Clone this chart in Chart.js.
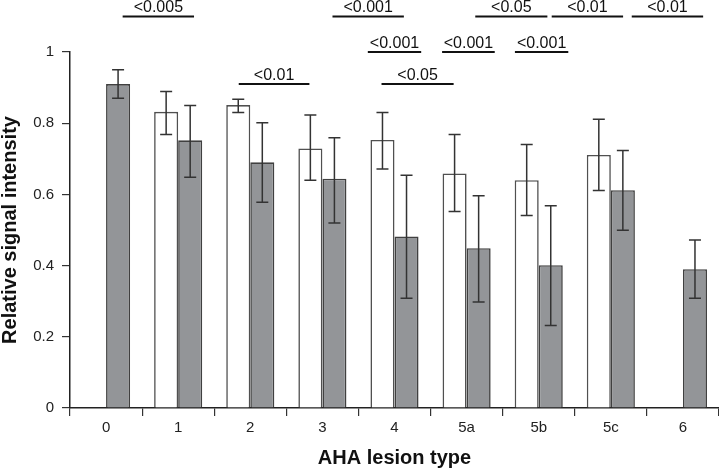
<!DOCTYPE html>
<html>
<head>
<meta charset="utf-8">
<script src="https://cdn.jsdelivr.net/npm/chart.js@4.4.0/dist/chart.umd.min.js"></script>
<style>
html,body{margin:0;padding:0;background:#fff;}
#wrap{width:719px;height:469px;position:relative;}
</style>
</head>
<body>
<div id="wrap"><canvas id="c" width="719" height="469"></canvas></div>
<script>
const categories = ['0','1','2','3','4','5a','5b','5c','6'];
const whiteValues = [null, 0.832, 0.851, 0.729, 0.753, 0.659, 0.640, 0.711, null];
const grayValues  = [0.910, 0.752, 0.690, 0.644, 0.482, 0.449, 0.401, 0.612, 0.390];
const whiteErrHigh = [null, 0.889, 0.867, 0.823, 0.830, 0.768, 0.740, 0.811, null];
const whiteErrLow  = [null, 0.768, 0.830, 0.640, 0.671, 0.552, 0.541, 0.611, null];
const grayErrHigh  = [0.950, 0.850, 0.801, 0.759, 0.654, 0.596, 0.568, 0.723, 0.472];
const grayErrLow   = [0.870, 0.648, 0.578, 0.520, 0.308, 0.298, 0.232, 0.499, 0.308];

const sigLabels = ['<0.005','<0.01','<0.001','<0.05','<0.01','<0.01','<0.001','<0.001','<0.001','<0.05'];
const sigFrom   = [0.23, 1.84, 3.14, 5.12, 6.18, 7.29, 3.63, 4.66, 5.67, 3.82];
const sigTo     = [1.22, 2.82, 4.13, 6.12, 7.17, 8.28, 4.37, 5.39, 6.41, 4.82];
const sigLevel  = [1.10, 0.91, 1.10, 1.10, 1.10, 1.10, 1.00, 1.00, 1.00, 0.91];

const FONT = '"Liberation Sans", Arial, sans-serif';
const errHigh = [whiteErrHigh, grayErrHigh];
const errLow = [whiteErrLow, grayErrLow];

const errorBars = {
  id: 'errorBars',
  afterDatasetsDraw(chart) {
    const ctx = chart.ctx;
    const y = chart.scales.y;
    ctx.save();
    ctx.strokeStyle = '#333';
    ctx.lineWidth = 1.5;
    chart.data.datasets.forEach((ds, di) => {
      const meta = chart.getDatasetMeta(di);
      meta.data.forEach((bar, i) => {
        const hi = errHigh[di][i], lo = errLow[di][i];
        if (hi == null || lo == null) return;
        const x = bar.x;
        const yh = y.getPixelForValue(hi), yl = y.getPixelForValue(lo);
        ctx.beginPath();
        ctx.moveTo(x, yh); ctx.lineTo(x, yl);
        ctx.moveTo(x - 6, yh); ctx.lineTo(x + 6, yh);
        ctx.moveTo(x - 6, yl); ctx.lineTo(x + 6, yl);
        ctx.stroke();
      });
    });
    ctx.restore();
  }
};

const sigPlugin = {
  id: 'sigPlugin',
  afterDraw(chart) {
    const ctx = chart.ctx;
    const xs = chart.scales.x, ys = chart.scales.y;
    ctx.save();
    ctx.strokeStyle = '#111';
    ctx.fillStyle = '#111';
    ctx.lineWidth = 2;
    ctx.font = '16px ' + FONT;
    ctx.textAlign = 'center';
    ctx.textBaseline = 'alphabetic';
    sigLabels.forEach((lab, i) => {
      const x1 = xs.getPixelForValue(sigFrom[i]);
      const x2 = xs.getPixelForValue(sigTo[i]);
      const yy = ys.getPixelForValue(sigLevel[i]);
      ctx.beginPath();
      ctx.moveTo(x1, yy); ctx.lineTo(x2, yy);
      ctx.stroke();
      ctx.fillText(lab, (x1 + x2) / 2, yy - 4);
    });
    ctx.restore();
  }
};

new Chart(document.getElementById('c'), {
  type: 'bar',
  data: {
    labels: categories,
    datasets: [
      { label: 'white', data: whiteValues, backgroundColor: '#ffffff', borderColor: '#505050', borderWidth: 1.6,
        categoryPercentage: 0.667, barPercentage: 1.0 },
      { label: 'gray', data: grayValues, backgroundColor: '#939598', borderColor: '#404040', borderWidth: 1.6,
        categoryPercentage: 0.667, barPercentage: 1.0 }
    ]
  },
  options: {
    responsive: false,
    animation: false,
    devicePixelRatio: 1,
    layout: { padding: { top: 52, right: 0, left: 0, bottom: 0 } },
    plugins: { legend: { display: false }, tooltip: { enabled: false } },
    scales: {
      x: {
        afterFit(s) { s.height = 61; },
        grid: { drawOnChartArea: false, drawTicks: true, tickLength: 8, color: '#333', lineWidth: 1.2, offset: true },
        border: { display: true, color: '#222', width: 1.5 },
        ticks: { color: '#222', font: { family: FONT, size: 15 }, padding: 3, maxRotation: 0 },
        title: { display: true, text: 'AHA lesion type', color: '#111',
          font: { family: FONT, size: 20, weight: 'bold', lineHeight: 1.05 }, padding: { top: 0, bottom: 0 } }
      },
      y: {
        min: 0, max: 1,
        afterFit(s) { s.width = 70; },
        grid: { drawOnChartArea: false, drawTicks: true, tickLength: 8, color: '#333', lineWidth: 1.2 },
        border: { display: true, color: '#222', width: 1.5 },
        ticks: { stepSize: 0.2, color: '#222', font: { family: FONT, size: 15 }, padding: 8,
          callback: (v) => String(Number(Number(v).toFixed(1))) },
        title: { display: true, text: 'Relative signal intensity', color: '#111',
          font: { family: FONT, size: 20, weight: 'bold', lineHeight: 1.0 }, padding: { top: 0, bottom: 0 } }
      }
    }
  },
  plugins: [errorBars, sigPlugin]
});
</script>
</body>
</html>
